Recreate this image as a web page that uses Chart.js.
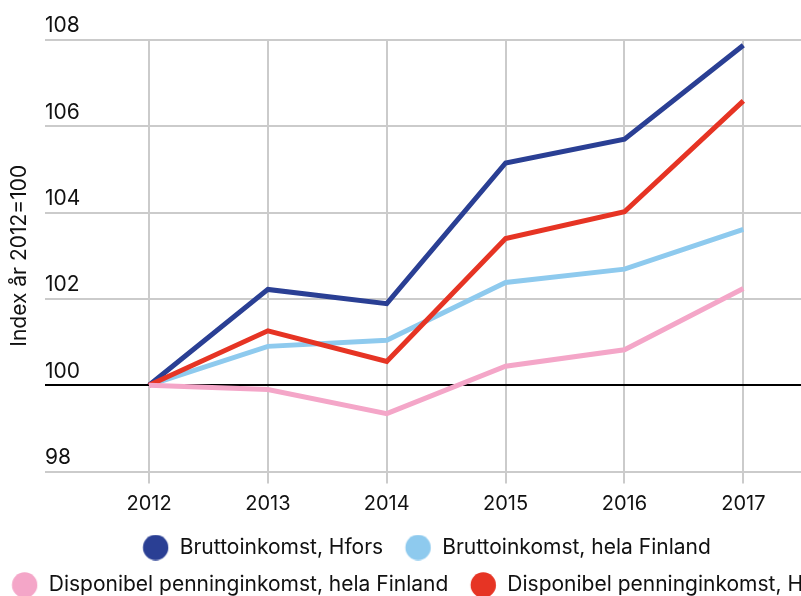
<!DOCTYPE html>
<html>
<head>
<meta charset="utf-8">
<script src="https://cdn.jsdelivr.net/npm/chart.js@4"></script>
<style>
html,body{margin:0;padding:0;overflow:hidden;background:#fff;width:801px;height:596px}
#wrap{position:absolute;left:-40px;top:0;width:928px;height:606px}
</style>
</head>
<body>
<div id="wrap"><canvas id="c" width="928" height="606"></canvas></div>
<script>
const years = [2012, 2013, 2014, 2015, 2016, 2017];
const bruttoHfors = [100, 102.22, 101.89, 105.15, 105.70, 107.88];
const bruttoFinland = [100, 100.90, 101.04, 102.38, 102.69, 103.61];
const dispFinland = [100, 99.90, 99.34, 100.44, 100.82, 102.24];
const dispHfors = [100, 101.26, 100.55, 103.40, 104.02, 106.59];
const seriesNames = ['Bruttoinkomst, Hfors', 'Bruttoinkomst, hela Finland', 'Disponibel penninginkomst, hela Finland', 'Disponibel penninginkomst, Hfors'];
const seriesValues = [bruttoHfors, bruttoFinland, dispFinland, dispHfors];
const yTicks = [98, 100, 102, 104, 106, 108];
const yTitle = 'Index år 2012=100';

const colors = ['#2a3f94', '#8ecaee', '#f4a6c8', '#e63424'];
const drawOrder = [2, 3, 0, 1];

function dot(color) {
  const c = document.createElement('canvas');
  c.width = 40; c.height = 26;
  const g = c.getContext('2d');
  g.fillStyle = color;
  g.beginPath();
  g.arc(22.4, 13, 12.7, 0, Math.PI * 2);
  g.fill();
  return c;
}

function draw() {
  Chart.defaults.font.family = 'Inter, "Noto Sans", sans-serif';
  Chart.defaults.color = '#111';
  new Chart(document.getElementById('c'), {
    type: 'line',
    data: {
      datasets: seriesNames.map((name, i) => ({
        label: name,
        data: years.map((yr, j) => ({ x: yr, y: seriesValues[i][j] })),
        borderColor: colors[i],
        backgroundColor: colors[i],
        borderWidth: 5,
        pointRadius: 0,
        tension: 0,
        fill: false,
        order: drawOrder[i]
      }))
    },
    options: {
      responsive: false,
      animation: false,
      events: [],
      layout: { padding: { left: 0, right: 0, top: 40, bottom: 0.5 } },
      plugins: {
        tooltip: { enabled: false },
        legend: {
          position: 'bottom',
          labels: {
            font: { size: 21 },
            color: '#111',
            usePointStyle: true,
            pointStyleWidth: 32,
            boxHeight: 18,
            padding: 16.5,
            sort: (a, b) => a.datasetIndex - b.datasetIndex,
            generateLabels(chart) {
              const items = Chart.defaults.plugins.legend.labels.generateLabels(chart);
              items.forEach(it => {
                const col = colors[it.datasetIndex];
                it.lineWidth = 0;
                it.fillStyle = col;
                it.strokeStyle = col;
                it.pointStyle = dot(col);
              });
              return items;
            }
          }
        }
      },
      scales: {
        x: {
          type: 'linear',
          min: 2011.125,
          max: 2018.217,
          afterBuildTicks: s => { s.ticks = years.map(v => ({ value: v })); },
          afterFit: s => { s.height -= 4; },
          ticks: { callback: v => String(v), font: { size: 20 }, color: '#111', padding: 8.5, maxRotation: 0, autoSkip: false },
          grid: { color: '#cbcbcb', lineWidth: 2, tickLength: 12, drawTicks: true },
          border: { display: false }
        },
        y: {
          min: yTicks[0],
          max: yTicks[yTicks.length - 1],
          afterBuildTicks: s => { s.ticks = yTicks.map(v => ({ value: v })); },
          ticks: { mirror: true, padding: 0, labelOffset: -14, font: { size: 21 }, color: '#111' },
          grid: {
            drawTicks: false,
            lineWidth: 2,
            color: c => (c.tick && c.tick.value === 100) ? '#000' : '#cbcbcb'
          },
          border: { display: false },
          title: { display: true, text: yTitle, font: { size: 21 }, color: '#111', padding: { top: 47.4, bottom: 12.4 } }
        }
      }
    }
  });
}

if (document.fonts && document.fonts.load) {
  document.fonts.load('21px Inter').then(draw, draw);
} else {
  draw();
}
</script>
</body>
</html>
